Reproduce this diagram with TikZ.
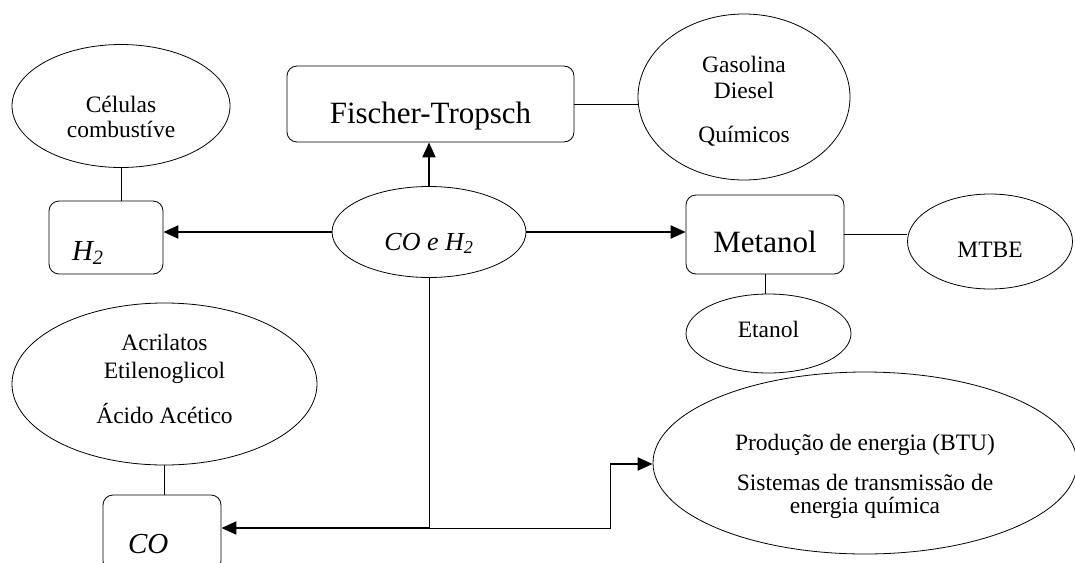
\documentclass[tikz,border=0pt]{standalone}
\usepackage{fontspec}
\setmainfont{Liberation Serif}
\usetikzlibrary{shapes.geometric,arrows.meta}

\tikzset{
oval/.style={ellipse, draw, line width=0.8pt, inner sep=0pt, align=center, font=\fontsize{23.5}{25}\selectfont},
caixa/.style={rectangle, draw, line width=0.8pt, rounded corners=10pt, inner sep=0pt},
seta/.style={line width=2pt, -{Triangle[length=15pt,width=13pt]}},
liga/.style={line width=0.8pt}
}

\begin{document}
\begin{tikzpicture}[x=1pt,y=1pt]
\path[use as bounding box] (0,0) rectangle (1075,-562);
\clip (0,0) rectangle (1075,-562);
\node[oval, minimum width=218pt, minimum height=123pt, text height=62pt, text depth=0pt] (celulas) at (121,-106) {Células\\combustíve};
\node[caixa, minimum width=114pt, minimum height=73pt, inner xsep=23pt, text width=68pt, align=left, text height=45pt, text depth=0pt, font=\fontsize{29}{32}\selectfont\itshape] (hdois) at (106,-237.5) {H\textsubscript{2}};
\node[caixa, minimum width=287pt, minimum height=76pt, text height=38pt, text depth=0pt, font=\fontsize{31}{34}\selectfont] (fischer) at (430.5,-104) {Fischer-Tropsch};
\node[oval, minimum width=212pt, minimum height=166pt, text height=90pt, text depth=0pt] (gasolina) at (744,-97) {Gasolina\\[1pt]Diesel\\[19pt]Químicos};
\node[oval, minimum width=194pt, minimum height=91pt, text height=36pt, text depth=0pt, font=\fontsize{26}{28}\selectfont\itshape] (syngas) at (429,-232) {CO e H\textsubscript{2}};
\node[caixa, minimum width=158pt, minimum height=79pt, text height=35pt, text depth=0pt, font=\fontsize{31}{34}\selectfont] (metanol) at (765,-234.5) {Metanol};
\node[oval, minimum width=165pt, minimum height=95pt, text height=31pt, text depth=0pt] (mtbe) at (990,-241.5) {MTBE};
\node[oval, minimum width=165pt, minimum height=79pt, text height=17pt, text depth=10pt] (etanol) at (768.5,-333.5) {Etanol};
\node[oval, minimum width=305pt, minimum height=162pt, text height=78pt, text depth=0pt] (acrilatos) at (164.5,-384) {Acrilatos\\[3pt]Etilenoglicol\\[18pt]Ácido Acético};
\node[caixa, minimum width=118pt, minimum height=76pt, inner xsep=25pt, text width=68pt, align=left, text height=40pt, text depth=0pt, font=\fontsize{29}{32}\selectfont\itshape] (comono) at (162,-533) {CO};
\node[oval, minimum width=424pt, minimum height=182pt, text height=100pt, text depth=0pt] (energia) at (865,-463) {Produção de energia (BTU)\\[15pt]Sistemas de transmissão de\\[-2pt]energia química};
\coordinate (junta) at (429,-528);
\coordinate (dobra) at (610,-464);
\draw[liga] (celulas.south) -- (celulas.south |- hdois.north);
\draw[liga] (fischer.east) -- (fischer.east -| gasolina.west);
\draw[liga] (metanol.east) -- (metanol.east -| mtbe.west);
\draw[liga] (metanol.south) -- (metanol.south |- etanol.north);
\draw[liga] (acrilatos.south) -- (acrilatos.south |- comono.north);
\draw[seta] (syngas.west) -- (syngas.west -| hdois.east);
\draw[seta] (syngas.north) -- (syngas.north |- fischer.south);
\draw[seta] (syngas.east) -- (syngas.east -| metanol.west);
\draw[liga] (syngas.south) -- (junta);
\draw[seta] (junta) -- (junta -| comono.east);
\draw[liga] (junta) -| (dobra);
\draw[seta] (dobra) -- (dobra -| energia.west);
\end{tikzpicture}
\end{document}
